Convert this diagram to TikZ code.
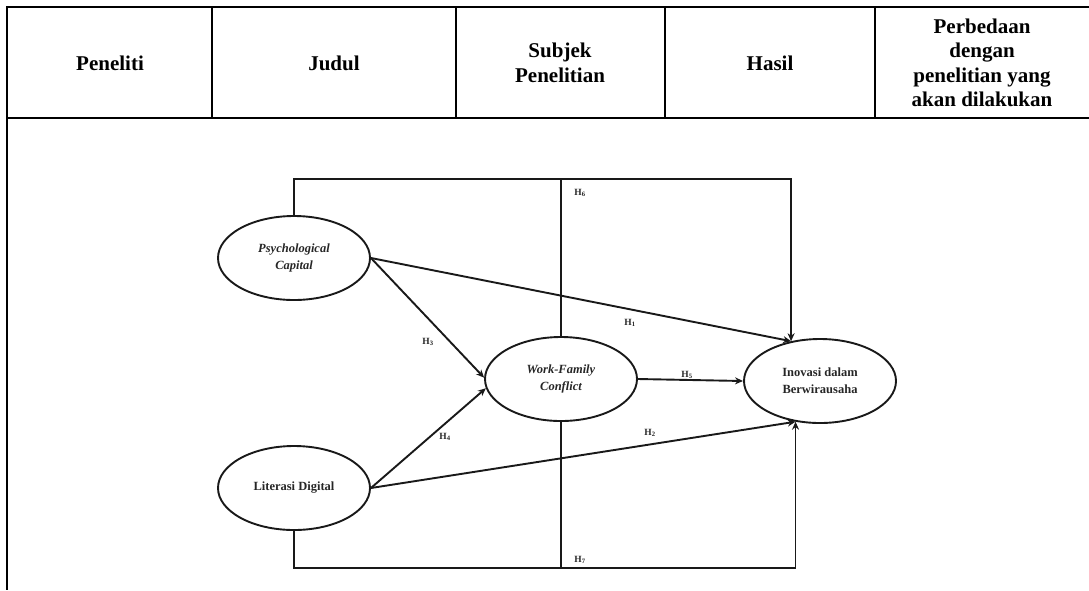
\documentclass[tikz,border=0pt]{standalone}
\usepackage{fontspec}
\setmainfont{Liberation Serif}
\usetikzlibrary{shapes.geometric,arrows.meta}
\begin{document}
\begin{tikzpicture}[x=1pt,y=-1pt,
  tline/.style={line width=2.5pt,black},
  head/.style={font=\bfseries\fontsize{21}{24.5}\selectfont,align=center,inner sep=0},
  var/.style={ellipse,draw=black!90,line width=1.9pt,minimum width=152pt,minimum height=84pt,inner sep=0,align=center,font=\bfseries\fontsize{12.5}{17}\selectfont,text=black!85},
  varit/.style={var,font=\bfseries\itshape\fontsize{12.5}{17}\selectfont},
  conn/.style={line width=1.9pt,draw=black!90},
  arr/.style={conn,-{Stealth[length=8pt,width=7pt]}},
  hlab/.style={font=\bfseries\fontsize{9.5}{10}\selectfont,text=black!85,inner sep=0}]
\useasboundingbox (0,0) rectangle (1089,590);
% table
\draw[tline] (1089,7) -- (7,7) -- (7,590);
\draw[tline] (7,118) -- (1089,118);
\foreach \x in {212,456,665,875} \draw[tline] (\x,7) -- (\x,118);
\node[head] (h1) at (110,63) {Peneliti};
\node[head] (h2) at (334,63) {Judul};
\node[head] (h3) at (560,63) {Subjek\\Penelitian};
\node[head] (h4) at (770,63) {Hasil};
\node[head] (h5) at (982,63) {Perbedaan\\dengan\\penelitian yang\\akan dilakukan};
% diagram
\node[varit] (PC) at (294,258) {Psychological\\Capital};
\node[varit] (WFC) at (561,379) {Work-Family\\Conflict};
\node[var] (INV) at (820,381) {Inovasi dalam\\Berwirausaha};
\node[var] (LD) at (294,488) {Literasi Digital};
\coordinate (topy) at (0,179);
\coordinate (boty) at (0,568);
\draw[arr] (PC.north) -- (PC.north |- topy) -- (INV.126 |- topy) -- (INV.126);
\draw[conn] (WFC.north) -- (WFC.north |- topy);
\draw[arr] (LD.south) -- (LD.south |- boty) -- (INV.239 |- boty) -- (INV.239);
\draw[conn] (WFC.south) -- (WFC.south |- boty);
\draw[arr] (PC.east) -- (WFC.179);
\draw[arr] (PC.east) -- (INV.126);
\draw[arr] (LD.east) -- (WFC.187);
\draw[arr] (LD.east) -- (INV.239);
\draw[arr] (WFC.east) -- (INV.west);
\node[hlab] (l6) at (580,193) {H\textsubscript{6}};
\node[hlab] (l3) at (428,342) {H\textsubscript{3}};
\node[hlab] (l1) at (630,323) {H\textsubscript{1}};
\node[hlab] (l5) at (687,375) {H\textsubscript{5}};
\node[hlab] (l4) at (445,437) {H\textsubscript{4}};
\node[hlab] (l2) at (650,433) {H\textsubscript{2}};
\node[hlab] (l7) at (580,560) {H\textsubscript{7}};
\end{tikzpicture}
\end{document}
